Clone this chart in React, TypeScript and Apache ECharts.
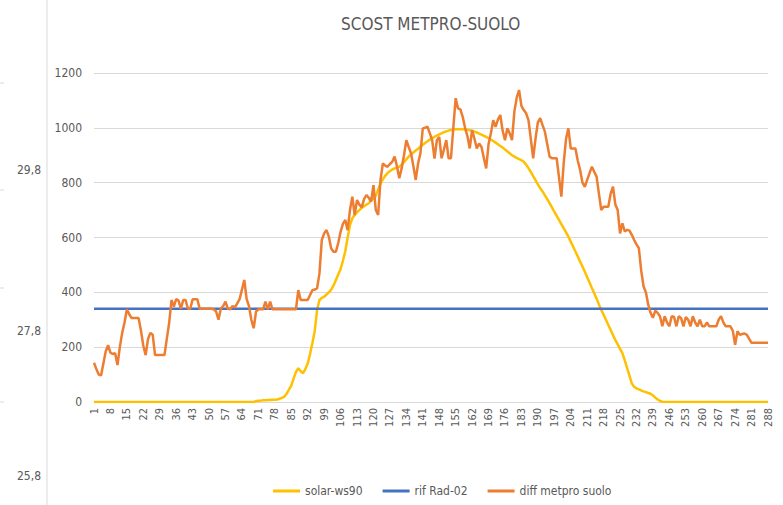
import React, { useEffect, useRef } from "react";
import * as echarts from "echarts";

const chartTitle = "SCOST METPRO-SUOLO";
const categories: string[] = Array.from({ length: 288 }, (_, i) => String(i + 1));
const yMin = 0;
const yMax = 1200;
const yStep = 200;
const sideLabels = ["29,8", "27,8", "25,8"];

const seriesNames = ["solar-ws90", "rif Rad-02", "diff metpro suolo"];

const solarWs90 = [
  0, 0, 0, 0, 0, 0, 0, 0, 0, 0, 0, 0,
  0, 0, 0, 0, 0, 0, 0, 0, 0, 0, 0, 0,
  0, 0, 0, 0, 0, 0, 0, 0, 0, 0, 0, 0,
  0, 0, 0, 0, 0, 0, 0, 0, 0, 0, 0, 0,
  0, 0, 0, 0, 0, 0, 0, 0, 0, 0, 0, 0,
  0, 0, 0, 0, 0, 0, 0, 0, 0, 3, 5, 5,
  6, 6, 7, 7, 8, 8, 9, 12, 15, 19, 30, 45,
  60, 85, 110, 123, 112, 105, 120, 140, 175, 215, 260, 336,
  372, 380, 384, 392, 400, 410, 425, 445, 465, 485, 515, 550,
  600, 645, 670, 682, 692, 700, 708, 714, 720, 725, 735, 742,
  752, 775, 797, 812, 825, 835, 842, 848, 852, 855, 858, 866,
  875, 885, 895, 903, 910, 917, 924, 931, 938, 945, 951, 957,
  962, 967, 972, 976, 980, 984, 987, 990, 992, 994, 995, 995,
  995, 995, 994, 993, 991, 989, 986, 983, 979, 975, 971, 967,
  962, 957, 952, 946, 940, 934, 928, 921, 914, 907, 900, 895,
  890, 886, 882, 876, 866, 853, 839, 824, 809, 794, 780, 768,
  754, 740, 725, 710, 694, 679, 664, 649, 634, 619, 603, 585,
  567, 549, 531, 512, 494, 475, 455, 436, 416, 397, 377, 356,
  336, 318, 300, 281, 263, 244, 226, 210, 194, 178, 152, 124,
  96, 68, 55, 50, 46, 42, 39, 36, 33, 30, 24, 16,
  9, 4, 1, 0, 0, 0, 0, 0, 0, 0, 0, 0,
  0, 0, 0, 0, 0, 0, 0, 0, 0, 0, 0, 0,
  0, 0, 0, 0, 0, 0, 0, 0, 0, 0, 0, 0,
  0, 0, 0, 0, 0, 0, 0, 0, 0, 0, 0, 0,
];

const rifRad02 = [
  340, 340, 340, 340, 340, 340, 340, 340, 340, 340, 340, 340,
  340, 340, 340, 340, 340, 340, 340, 340, 340, 340, 340, 340,
  340, 340, 340, 340, 340, 340, 340, 340, 340, 340, 340, 340,
  340, 340, 340, 340, 340, 340, 340, 340, 340, 340, 340, 340,
  340, 340, 340, 340, 340, 340, 340, 340, 340, 340, 340, 340,
  340, 340, 340, 340, 340, 340, 340, 340, 340, 340, 340, 340,
  340, 340, 340, 340, 340, 340, 340, 340, 340, 340, 340, 340,
  340, 340, 340, 340, 340, 340, 340, 340, 340, 340, 340, 340,
  340, 340, 340, 340, 340, 340, 340, 340, 340, 340, 340, 340,
  340, 340, 340, 340, 340, 340, 340, 340, 340, 340, 340, 340,
  340, 340, 340, 340, 340, 340, 340, 340, 340, 340, 340, 340,
  340, 340, 340, 340, 340, 340, 340, 340, 340, 340, 340, 340,
  340, 340, 340, 340, 340, 340, 340, 340, 340, 340, 340, 340,
  340, 340, 340, 340, 340, 340, 340, 340, 340, 340, 340, 340,
  340, 340, 340, 340, 340, 340, 340, 340, 340, 340, 340, 340,
  340, 340, 340, 340, 340, 340, 340, 340, 340, 340, 340, 340,
  340, 340, 340, 340, 340, 340, 340, 340, 340, 340, 340, 340,
  340, 340, 340, 340, 340, 340, 340, 340, 340, 340, 340, 340,
  340, 340, 340, 340, 340, 340, 340, 340, 340, 340, 340, 340,
  340, 340, 340, 340, 340, 340, 340, 340, 340, 340, 340, 340,
  340, 340, 340, 340, 340, 340, 340, 340, 340, 340, 340, 340,
  340, 340, 340, 340, 340, 340, 340, 340, 340, 340, 340, 340,
  340, 340, 340, 340, 340, 340, 340, 340, 340, 340, 340, 340,
  340, 340, 340, 340, 340, 340, 340, 340, 340, 340, 340, 340,
];

const diffMetproSuolo = [
  143, 120, 100, 97, 140, 185, 207, 180, 175, 178, 135, 200,
  252, 290, 338, 320, 306, 306, 306, 306, 260, 205, 171, 230,
  252, 245, 171, 171, 171, 171, 171, 230, 288, 372, 348, 375,
  370, 340, 372, 372, 340, 340, 375, 375, 375, 340, 340, 340,
  340, 340, 340, 338, 330, 300, 340, 350, 366, 340, 338, 350,
  345, 360, 375, 410, 445, 375, 350, 300, 269, 330, 338, 338,
  338, 366, 338, 366, 338, 338, 338, 338, 338, 338, 338, 338,
  338, 338, 338, 408, 372, 372, 372, 372, 390, 408, 410, 415,
  469, 591, 615, 627, 603, 560, 548, 548, 580, 621, 650, 664,
  627, 700, 749, 682, 737, 720, 710, 740, 755, 745, 731, 791,
  700, 682, 810, 870, 862, 858, 868, 876, 895, 860, 816, 852,
  900, 955, 930, 907, 860, 810, 870, 907, 998, 1000, 1004, 980,
  955, 888, 955, 967, 889, 920, 955, 889, 889, 1000, 1108, 1071,
  1067, 1040, 1000, 970, 925, 992, 960, 925, 943, 930, 890, 852,
  940, 980, 1028, 1004, 1030, 1047, 990, 955, 998, 980, 955, 1059,
  1110, 1138, 1080, 1065, 1053, 1028, 960, 889, 960, 1020, 1035, 1010,
  986, 940, 895, 889, 889, 889, 820, 749, 870, 960, 998, 925,
  925, 925, 880, 846, 800, 785, 810, 835, 858, 840, 822, 760,
  700, 712, 712, 712, 760, 785, 720, 700, 615, 652, 622, 628,
  625, 610, 591, 575, 561, 480, 422, 400, 355, 325, 307, 333,
  325, 313, 276, 313, 290, 276, 313, 310, 276, 313, 306, 276,
  310, 300, 276, 313, 290, 276, 300, 276, 276, 290, 276, 276,
  276, 276, 300, 313, 290, 276, 276, 276, 260, 209, 258, 245,
  248, 250, 245, 230, 216, 216, 216, 216, 216, 216, 216, 216,
];

const FONT = "'DejaVu Sans Condensed', 'Liberation Sans Narrow', 'Open Sans', sans-serif";
const TEXT_COLOR = "#595959";
const GRID_COLOR = "#d9d9d9";
const COLORS = ["#FFC000", "#4472C4", "#ED7D31"];

export default function App() {
  const ref = useRef<HTMLDivElement>(null);

  useEffect(() => {
    document.body.style.margin = "0";
    if (!ref.current) return;
    const chart = echarts.init(ref.current, undefined, { renderer: "svg" });
    const dataSets = [solarWs90, rifRad02, diffMetproSuolo];
    chart.setOption({
      animation: false,
      backgroundColor: "#ffffff",
      color: COLORS,
      title: {
        text: chartTitle,
        left: 336,
        top: 10,
        textStyle: {
          fontFamily: FONT,
          fontSize: 17,
          fontWeight: "normal",
          color: TEXT_COLOR,
        },
      },
      grid: { left: 94, right: 15, top: 73, bottom: 103 },
      legend: {
        left: 268,
        top: 480,
        icon: "rect",
        itemWidth: 27,
        itemHeight: 3,
        itemGap: 20,
        itemTextGap: 3,
        textStyle: { fontFamily: FONT, fontSize: 12, color: TEXT_COLOR },
        data: seriesNames,
      },
      xAxis: {
        type: "category",
        data: categories,
        boundaryGap: false,
        axisLine: { lineStyle: { color: GRID_COLOR } },
        axisTick: { show: false },
        axisLabel: {
          interval: 6,
          rotate: 90,
          fontFamily: FONT,
          fontSize: 11,
          color: TEXT_COLOR,
          margin: 6,
        },
        splitLine: { show: false },
      },
      yAxis: {
        type: "value",
        min: yMin,
        max: yMax,
        interval: yStep,
        axisLine: { show: false },
        axisTick: { show: false },
        axisLabel: {
          fontFamily: FONT,
          fontSize: 12,
          color: TEXT_COLOR,
          margin: 12,
          formatter: (v: number) => String(v),
        },
        splitLine: { lineStyle: { color: GRID_COLOR, width: 1 } },
      },
      series: seriesNames.map((name, k) => ({
        name,
        type: "line",
        data: dataSets[k],
        showSymbol: false,
        symbol: "none",
        lineStyle: { width: 2.5, color: COLORS[k] },
        itemStyle: { color: COLORS[k] },
        z: 2 + k,
      })),
      graphic: [
        {
          type: "line",
          shape: { x1: 47, y1: 0, x2: 47, y2: 505 },
          style: { stroke: GRID_COLOR, lineWidth: 1 },
          silent: true,
        },
        ...[83, 190, 288, 402].map((y) => ({
          type: "line",
          shape: { x1: 0, y1: y, x2: 4, y2: y },
          style: { stroke: GRID_COLOR, lineWidth: 1 },
          silent: true,
        })),
        ...sideLabels.map((t, k) => ({
          type: "text",
          x: 17,
          y: [164, 325, 470][k],
          style: {
            text: t,
            fontFamily: FONT,
            fontSize: 12,
            fill: TEXT_COLOR,
          },
          silent: true,
        })),
      ],
    });
    return () => chart.dispose();
  }, []);

  return (
    <div
      ref={ref}
      style={{ position: "fixed", left: 0, top: 0, width: 783, height: 505 }}
    />
  );
}
